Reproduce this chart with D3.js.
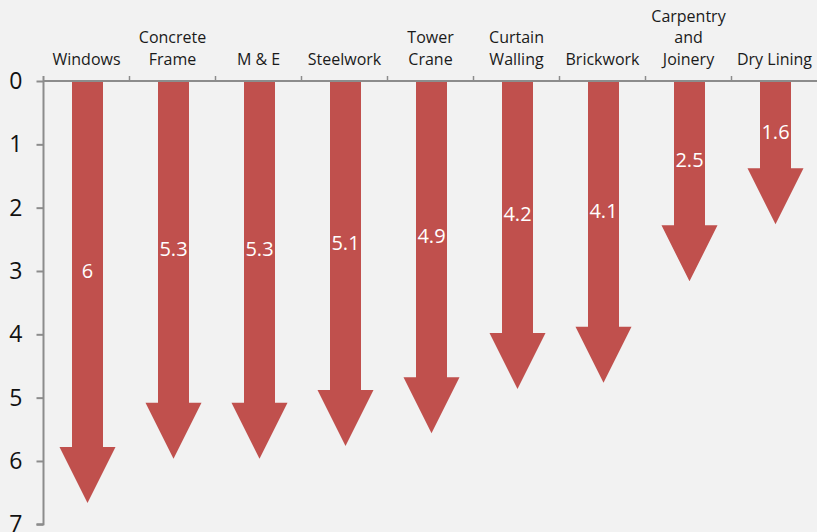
<!DOCTYPE html>
<html>
<head>
<meta charset="utf-8">
<script src="https://cdn.jsdelivr.net/npm/d3@7"></script>
<style>
  html, body { margin: 0; padding: 0; background: #f2f2f2; }
  svg { display: block; font-family: "Open Sans", sans-serif; }
</style>
</head>
<body>
<svg id="chart" width="817" height="532"></svg>
<script>
// Trades and their values (drawn as downward arrows)
const categories = [
  "Windows", "Concrete Frame", "M & E", "Steelwork", "Tower Crane",
  "Curtain Walling", "Brickwork", "Carpentry and Joinery", "Dry Lining"
];
// Category labels split over lines as they are set above the axis
const categoryLines = [
  ["Windows"], ["Concrete", "Frame"], ["M & E"], ["Steelwork"], ["Tower", "Crane"],
  ["Curtain", "Walling"], ["Brickwork"], ["Carpentry", "and", "Joinery"], ["Dry Lining"]
];
const values = [6, 5.3, 5.3, 5.1, 4.9, 4.2, 4.1, 2.5, 1.6];
const yTicks = [0, 1, 2, 3, 4, 5, 6, 7];

const W = 817, H = 532;
const plot = { left: 43.5, right: 817.5, top: 81, bottom: 524.3 };

const svg = d3.select("#chart");
svg.append("rect").attr("width", W).attr("height", H).attr("fill", "#f2f2f2");

const x = d3.scaleBand().domain(categories).range([plot.left, plot.right]);
const y = d3.scaleLinear().domain([0, 7]).range([plot.top, plot.bottom]);

const axisColor = "#8c8c8c";
const barColor = "#c0504d";

// Arrow geometry (pixels)
const shaftHalf = 15.5, headHalf = 28, headBack = 14, headFwd = 42;

function arrowPath(cat, v) {
  const cx = x(cat) + x.bandwidth() / 2 + 1;
  const y0 = y(0) + 1;
  const yb = y(v) - headBack;
  const yt = y(v) + headFwd;
  return `M${cx - shaftHalf},${y0} L${cx + shaftHalf},${y0} L${cx + shaftHalf},${yb}
          L${cx + headHalf},${yb} L${cx},${yt} L${cx - headHalf},${yb}
          L${cx - shaftHalf},${yb} Z`;
}

// Arrows
svg.append("g").selectAll("path")
  .data(categories.map((c, i) => ({ c, v: values[i] })))
  .join("path")
  .attr("d", d => arrowPath(d.c, d.v))
  .attr("fill", barColor);

// Value labels at the middle of each shaft
svg.append("g").selectAll("text")
  .data(categories.map((c, i) => ({ c, v: values[i] })))
  .join("text")
  .attr("x", d => x(d.c) + x.bandwidth() / 2 + 1)
  .attr("y", d => y(d.v / 2))
  .attr("dy", "0.36em")
  .attr("text-anchor", "middle")
  .attr("fill", "#ffffff")
  .attr("font-size", 20)
  .text(d => String(d.v));

// Left value axis
const yAxis = d3.axisLeft(y).tickValues(yTicks).tickSize(7).tickPadding(14)
  .tickFormat(d3.format("d"));
const gy = svg.append("g").attr("transform", `translate(${plot.left},0)`).call(yAxis);
gy.select(".domain").attr("d", `M-7,${plot.bottom}H0V${plot.top - 5}`)
  .attr("stroke", axisColor).attr("stroke-width", 2).attr("fill", "none");
gy.selectAll(".tick line").attr("stroke", axisColor).attr("stroke-width", 2);
gy.selectAll(".tick text").attr("fill", "#111").attr("font-size", 23)
  .attr("font-family", "Open Sans, sans-serif");

// Top category axis with boundary ticks pointing up
const gx = svg.append("g");
gx.append("line")
  .attr("x1", plot.left).attr("x2", plot.right)
  .attr("y1", plot.top).attr("y2", plot.top)
  .attr("stroke", axisColor).attr("stroke-width", 2);
gx.selectAll("line.bound")
  .data(categories.slice(1))
  .join("line")
  .attr("class", "bound")
  .attr("x1", d => x(d)).attr("x2", d => x(d))
  .attr("y1", plot.top).attr("y2", plot.top - 5)
  .attr("stroke", axisColor).attr("stroke-width", 1.5);

// Category labels, last line sitting on a common baseline
const lineH = 21.7, baseY = 65;
const labels = gx.selectAll("text.cat")
  .data(categories.map((c, i) => ({ c, lines: categoryLines[i] })))
  .join("text")
  .attr("class", "cat")
  .attr("text-anchor", "middle")
  .attr("font-size", 16)
  .attr("fill", "#1a1a1a");
labels.each(function(d) {
  const t = d3.select(this);
  const n = d.lines.length;
  d.lines.forEach((ln, k) => {
    t.append("tspan")
      .attr("x", x(d.c) + x.bandwidth() / 2)
      .attr("y", baseY - (n - 1 - k) * lineH)
      .text(ln);
  });
});
</script>
</body>
</html>
